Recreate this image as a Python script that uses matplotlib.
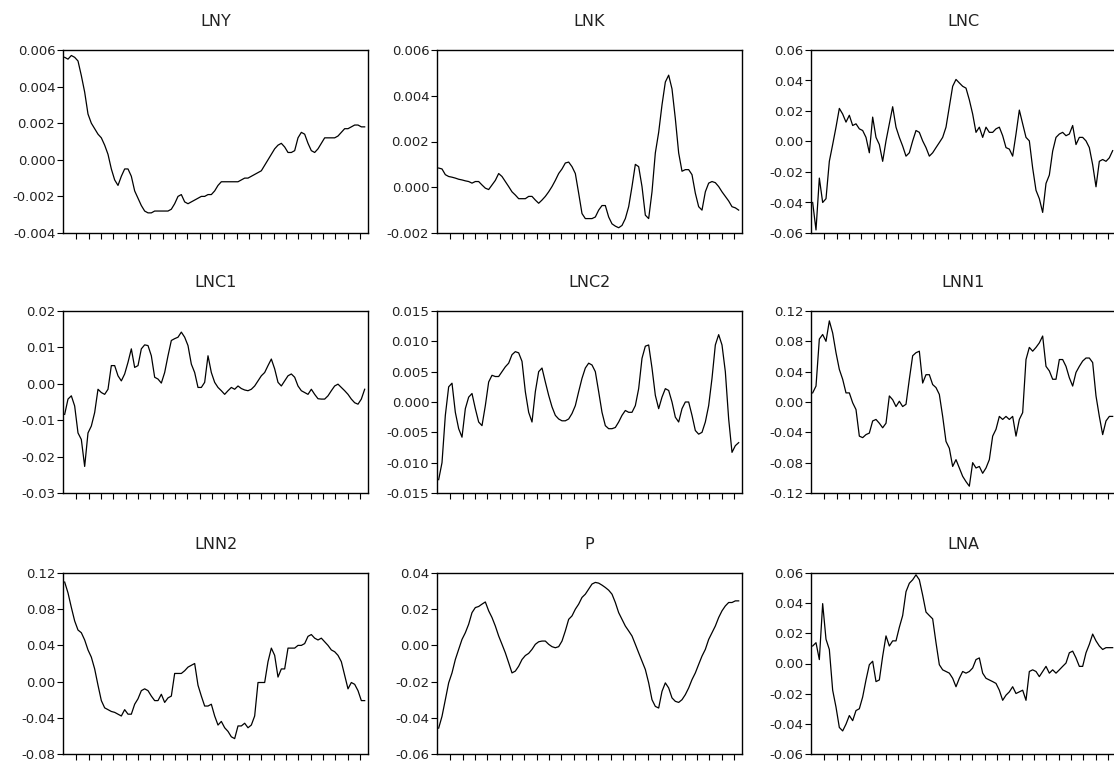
import matplotlib
matplotlib.use('Agg')
import matplotlib.pyplot as plt
from matplotlib.ticker import FormatStrFormatter
import numpy as np

plt.rcParams['font.family'] = ['DejaVu Sans']

titles = ['LNY', 'LNK', 'LNC', 'LNC1', 'LNC2', 'LNN1', 'LNN2', 'P', 'LNA']

lny = [.0056, .0055, .0057, .0056, .0054, .0046, .0037, .0025, .0020, .0017,
       .0014, .0012, .0008, .0003, -.0005, -.0011, -.0014, -.0009, -.0005, -.0005,
       -.0009, -.0017, -.0021, -.0025, -.0028, -.0029, -.0029, -.0028, -.0028, -.0028,
       -.0028, -.0028, -.0027, -.0024, -.0020, -.0019, -.0023, -.0024, -.0023, -.0022,
       -.0021, -.0020, -.0020, -.0019, -.0019, -.0017, -.0014, -.0012, -.0012, -.0012,
       -.0012, -.0012, -.0012, -.0011, -.0010, -.0010, -.0009, -.0008, -.0007, -.0006,
       -.0003, .0000, .0003, .0006, .0008, .0009, .0007, .0004, .0004, .0005,
       .0012, .0015, .0014, .0009, .0005, .0004, .0006, .0009, .0012, .0012,
       .0012, .0012, .0013, .0015, .0017, .0017, .0018, .0019, .0019, .0018, .0018]

lnk = [.00084, .0008, .00055, .00047, .00044, .0004, .00035, .00032, .00028, .00025,
       .00018, .00025, .00025, .0001, -.00004, -.0001, .0001, .0003, .0006, .00047,
       .00025, .00003, -.0002, -.00034, -.0005, -.0005, -.0005, -.0004, -.0004, -.00056,
       -.0007, -.00056, -.0004, -.0002, .00003, .0003, .0006, .0008, .00106, .0011,
       .0009, .0006, -.00026, -.00115, -.00137, -.00137, -.00137, -.0013, -.001, -.0008,
       -.0008, -.0013, -.0016, -.0017, -.00177, -.00167, -.00137, -.00085, .00003, .001,
       .0009, .00003, -.00122, -.00137, -.0002, .0015, .0024, .0036, .0046, .0049,
       .0043, .003, .0015, .0007, .00077, .00077, .00055, -.00026, -.00085, -.001,
       -.0002, .00018, .00025, .0002, .00003, -.0002, -.0004, -.0006, -.00085, -.0009, -.001]

lnc = [-.040, -.058, -.024, -.040, -.0375, -.013, -.002, .0094, .0217, .018,
       .0127, .0172, .0105, .0116, .0083, .0072, .0027, -.0074, .016, .0027,
       -.002, -.013, .0004, .0116, .0228, .0094, .0027, -.003, -.0096, -.0074,
       .0004, .0072, .006, .0004, -.004, -.0096, -.0074, -.004, -.0007, .0027,
       .0094, .0228, .0362, .0407, .0384, .0362, .035, .0273, .018, .006,
       .0094, .0027, .0094, .006, .006, .0083, .0094, .0038, -.004, -.005,
       -.0096, .0049, .0206, .0116, .0027, .0004, -.0174, -.032, -.0375, -.0465,
       -.0275, -.022, -.0063, .0027, .0049, .006, .0038, .0049, .0105, -.002,
       .0027, .0027, .0004, -.004, -.0152, -.0297, -.013, -.0118, -.013, -.0107, -.006]

lnc1 = [-.0084, -.0042, -.0033, -.0061, -.0135, -.0153, -.0227, -.0135, -.0116, -.0079,
        -.0015, -.0024, -.0029, -.0015, .005, .005, .0022, .0008, .0027, .0059,
        .0096, .0045, .005, .0096, .0107, .0105, .0077, .0018, .0013, .0002,
        .0031, .0077, .0119, .0124, .0128, .0142, .0128, .0105, .0054, .0031,
        -.001, -.001, .0004, .0077, .0031, .0004, -.001, -.0019, -.0029, -.0019,
        -.001, -.0015, -.0006, -.0013, -.0017, -.0019, -.0015, -.0006, .0008, .0022,
        .0031, .005, .0068, .0041, .0004, -.0006, .0008, .0022, .0027, .0018,
        -.0006, -.0019, -.0024, -.0029, -.0015, -.0029, -.0041, -.0042, -.0042, -.0033,
        -.0019, -.0006, -.0001, -.001, -.0019, -.0029, -.0042, -.0052, -.0056, -.0042, -.0015]

lnc2 = [-.0128, -.01, -.0022, .0025, .0031, -.0017, -.0044, -.0058, -.0011, .0008,
        .0014, -.0011, -.0033, -.0039, -.0006, .0033, .0044, .0042, .0042, .005,
        .0058, .0064, .0078, .0083, .0081, .0067, .0017, -.0017, -.0033, .0017,
        .005, .0056, .0033, .0011, -.0008, -.0022, -.0028, -.0031, -.0031, -.0028,
        -.0019, -.0006, .0017, .0039, .0056, .0064, .0061, .005, .0017, -.0017,
        -.0039, -.0044, -.0044, -.0042, -.0033, -.0022, -.0014, -.0017, -.0017, -.0006,
        .0022, .0072, .0092, .0094, .0056, .0011, -.0011, .0008, .0022, .0019,
        .0, -.0025, -.0033, -.0011, .0, .0, -.0022, -.0047, -.0053, -.005,
        -.0033, -.0006, .0039, .0094, .0111, .0094, .005, -.0028, -.0083, -.0072, -.0067]

lnn1 = [.012, .021, .083, .089, .080, .107, .091, .065, .043, .030,
        .012, .012, -.001, -.010, -.045, -.047, -.043, -.041, -.025, -.023,
        -.028, -.034, -.028, .008, .003, -.006, .001, -.006, -.003, .030,
        .061, .065, .067, .025, .036, .036, .023, .019, .010, -.019,
        -.052, -.061, -.085, -.076, -.087, -.098, -.105, -.111, -.080, -.087,
        -.085, -.094, -.087, -.076, -.045, -.036, -.019, -.023, -.019, -.023,
        -.019, -.045, -.023, -.014, .056, .072, .067, .072, .078, .087,
        .047, .041, .030, .030, .056, .056, .047, .032, .021, .039,
        .047, .054, .058, .058, .052, .008, -.019, -.043, -.025, -.019, -.019]

lnn2 = [.110, .098, .082, .067, .057, .054, .046, .035, .027, .014,
        -.004, -.021, -.029, -.031, -.033, -.034, -.036, -.038, -.031, -.036,
        -.036, -.025, -.019, -.010, -.008, -.010, -.016, -.021, -.021, -.014,
        -.023, -.018, -.016, .009, .009, .009, .012, .016, .018, .020,
        -.004, -.016, -.027, -.027, -.025, -.038, -.048, -.044, -.051, -.055,
        -.061, -.063, -.049, -.049, -.046, -.051, -.048, -.038, -.001, -.001,
        -.001, .022, .037, .029, .005, .014, .014, .037, .037, .037,
        .040, .040, .042, .050, .052, .048, .046, .048, .044, .040,
        .035, .033, .029, .022, .007, -.008, -.001, -.003, -.010, -.021, -.021]

p = [-.0457, -.0392, -.030, -.0207, -.0152, -.0078, -.0022, .0033, .0070, .0117,
     .0181, .0209, .0215, .0228, .0240, .0191, .0154, .0107, .0052, .0006,
     -.0041, -.0096, -.0152, -.0142, -.0115, -.0078, -.0056, -.0044, -.0022, .0006,
     .0020, .0024, .0024, .0006, -.0007, -.0013, -.0007, .0024, .0080, .0144,
     .0163, .0200, .0228, .0265, .0283, .0311, .0339, .0348, .0344, .0333,
     .0320, .0305, .0283, .0237, .0181, .0144, .0107, .0080, .0052, .0006,
     -.0041, -.0087, -.0133, -.0207, -.030, -.0337, -.0346, -.0254, -.0207, -.0235,
     -.0290, -.0309, -.0315, -.030, -.0272, -.0235, -.0189, -.0152, -.0105, -.0059,
     -.0022, .0033, .0070, .0107, .0154, .0191, .0218, .0237, .0237, .0246, .0246]

lna = [.0116, .0138, .0026, .0397, .0161, .0093, -.0177, -.0289, -.0424, -.0447,
       -.0402, -.0345, -.0379, -.0312, -.030, -.0222, -.0109, -.0008, .0015, -.0120,
       -.0109, .0048, .0183, .0116, .0150, .0150, .0240, .0318, .0476, .0532,
       .0555, .0588, .0555, .0453, .0341, .0318, .0296, .0138, -.0008, -.0042,
       -.0053, -.0064, -.0098, -.0154, -.0098, -.0053, -.0064, -.0053, -.003, .0026,
       .0037, -.0064, -.0098, -.0109, -.0120, -.0132, -.0177, -.0244, -.0210, -.0188,
       -.0154, -.0199, -.0188, -.0177, -.0244, -.0053, -.0042, -.0053, -.0087, -.0053,
       -.0019, -.0064, -.0042, -.0064, -.0042, -.0019, .0003, .0071, .0082, .0037,
       -.0019, -.0019, .0071, .0127, .0195, .0150, .0116, .0093, .0105, .0105, .0105]

series = [lny, lnk, lnc, lnc1, lnc2, lnn1, lnn2, p, lna]

# y axis range, step and label format per panel
yranges = [(-0.004, 0.006, 0.002, '%.3f'), (-0.002, 0.006, 0.002, '%.3f'),
           (-0.06, 0.06, 0.02, '%.2f'), (-0.03, 0.02, 0.01, '%.2f'),
           (-0.015, 0.015, 0.005, '%.3f'), (-0.12, 0.12, 0.04, '%.2f'),
           (-0.08, 0.12, 0.04, '%.2f'), (-0.06, 0.04, 0.02, '%.2f'),
           (-0.06, 0.06, 0.02, '%.2f')]

W, H = 1114, 767
fig = plt.figure(figsize=(W / 100, H / 100), dpi=100)

col_left = [63, 437, 811]
row_top = [50, 311, 573]
row_h = [183, 182, 181]
ax_w = 305

xticks = 3.5 + 3.7 * np.arange(24)

for k, (name, vals) in enumerate(zip(titles, series)):
    r, c = divmod(k, 3)
    left = col_left[c] / W
    bottom = 1 - (row_top[r] + row_h[r]) / H
    ax = fig.add_axes([left, bottom, ax_w / W, row_h[r] / H])
    x = np.arange(len(vals))
    ax.plot(x, vals, color='black', linewidth=0.9)
    lo, hi, step, fmt = yranges[k]
    ax.set_ylim(lo, hi)
    ax.set_yticks(np.arange(lo, hi + step / 2, step))
    ax.yaxis.set_major_formatter(FormatStrFormatter(fmt))
    ax.set_xlim(-0.5, 91)
    ax.set_xticks(xticks)
    ax.set_xticklabels([])
    ax.tick_params(direction='out', length=4, width=0.8, labelsize=9.5,
                   color='black', labelcolor='#222222', pad=1.5)
    for s in ax.spines.values():
        s.set_linewidth(1.0)
    ax.set_title(name, fontsize=11.5, pad=17, color='#222222')

fig.savefig('out.png', dpi=100, facecolor='white')
